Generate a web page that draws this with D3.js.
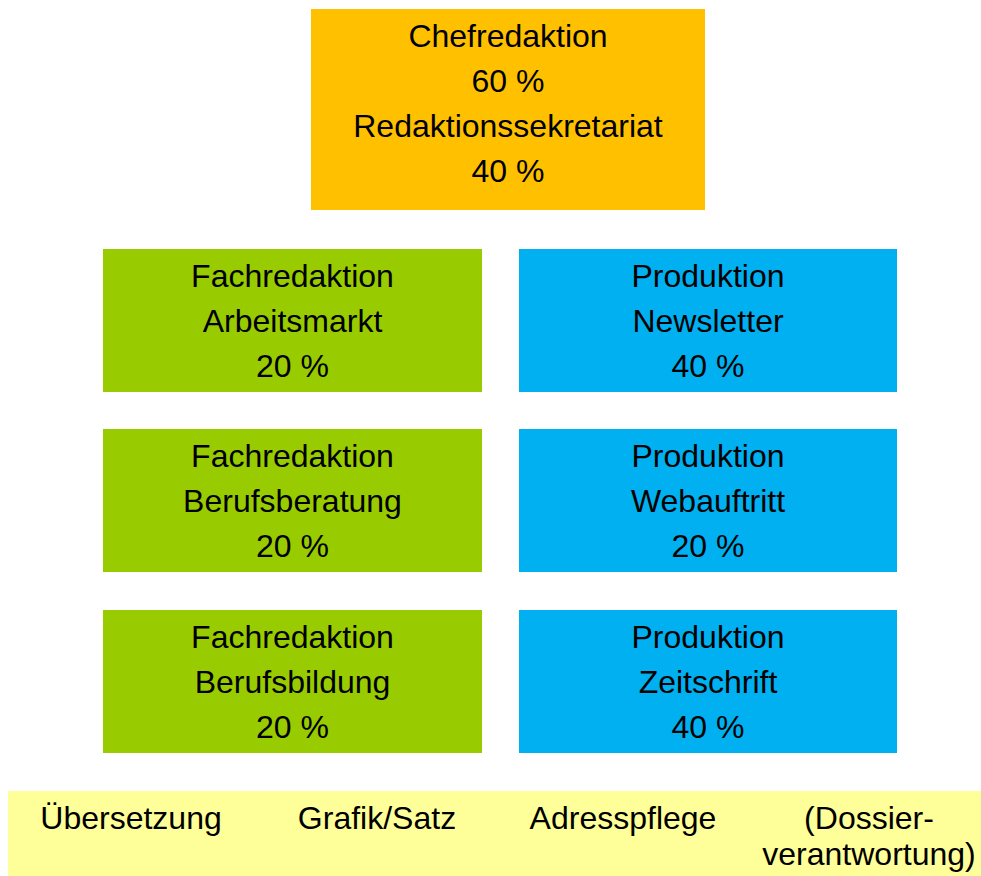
<!DOCTYPE html>
<html><head><meta charset="utf-8">
<script src="https://cdn.jsdelivr.net/npm/d3@7"></script>
<style>html,body{margin:0;padding:0;background:#fff;}svg{display:block;}</style>
</head><body>
<script>
// Data
const topLines = ["Chefredaktion", "60 %", "Redaktionssekretariat", "40 %"];
const leftUnits = [
  ["Fachredaktion", "Arbeitsmarkt", "20 %"],
  ["Fachredaktion", "Berufsberatung", "20 %"],
  ["Fachredaktion", "Berufsbildung", "20 %"]
];
const rightUnits = [
  ["Produktion", "Newsletter", "40 %"],
  ["Produktion", "Webauftritt", "20 %"],
  ["Produktion", "Zeitschrift", "40 %"]
];
const supportItems = [["Übersetzung"], ["Grafik/Satz"], ["Adresspflege"], ["(Dossier-", "verantwortung)"]];

const W = 981, H = 876;
const font = "'Liberation Sans', Arial, Helvetica, sans-serif";
const fs = 32;
const svg = d3.select("body").append("svg").attr("width", W).attr("height", H);

function box(x, y, w, h, fill, lines, lh, base) {
  const g = svg.append("g");
  g.append("rect").attr("x", x).attr("y", y).attr("width", w).attr("height", h).attr("fill", fill);
  g.selectAll("text").data(lines).join("text")
    .attr("x", x + w / 2)
    .attr("y", (d, i) => y + base + i * lh)
    .attr("text-anchor", "middle")
    .attr("font-family", font).attr("font-size", fs).attr("fill", "#000")
    .text(d => d);
}

box(311, 9, 394, 201, "#FFC000", topLines, 45, 37.7);

const rowY = d3.scaleOrdinal().domain([0, 1, 2]).range([249, 429, 610]);
leftUnits.forEach((u, i) => box(103, rowY(i), 379, 143, "#99CC00", u, 45, 37.7));
rightUnits.forEach((u, i) => box(519, rowY(i), 378, 143, "#00B0F0", u, 45, 37.7));

// support bar
svg.append("rect").attr("x", 8).attr("y", 791).attr("width", 990).attr("height", 90).attr("fill", "#FFFF99");
const colX = d3.scaleBand().domain(d3.range(supportItems.length)).range([8, 992]);
supportItems.forEach((lines, i) => {
  svg.selectAll(null).data(lines).join("text")
    .attr("x", colX(i) + colX.bandwidth() / 2)
    .attr("y", (d, j) => 829 + j * 36)
    .attr("text-anchor", "middle")
    .attr("font-family", font).attr("font-size", fs).attr("fill", "#000")
    .text(d => d);
});
</script>
</body></html>
